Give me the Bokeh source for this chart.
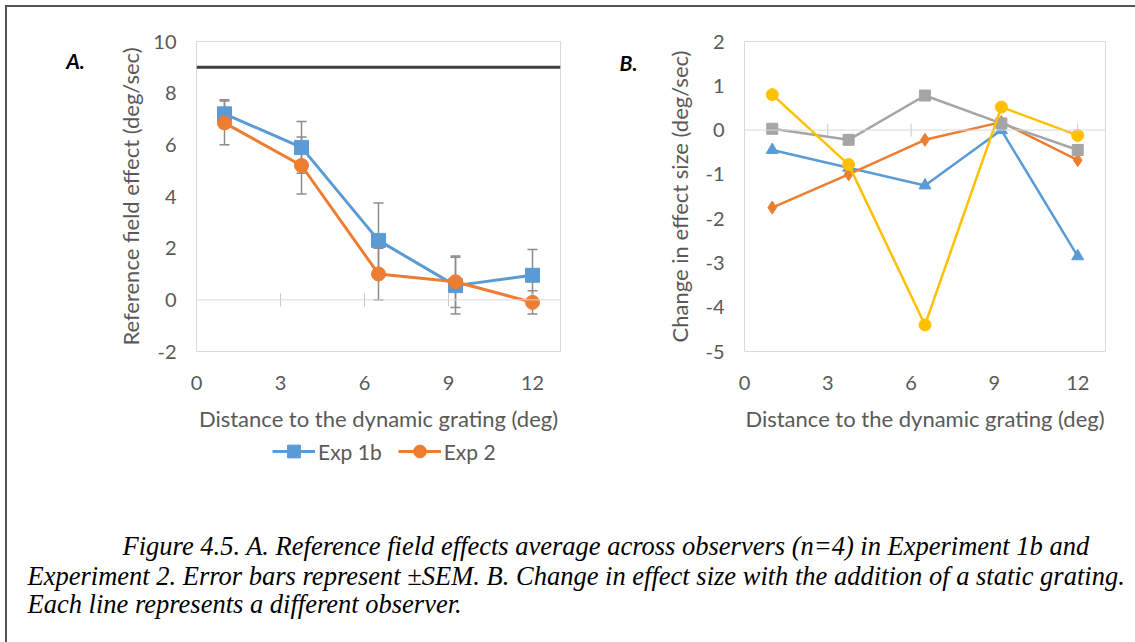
from math import pi
import numpy as np
from bokeh.plotting import figure
from bokeh.models import (Range1d, FixedTicker, Span, Whisker, ColumnDataSource,
                          Legend, LegendItem, Label, TeeHead, Div, Spacer)
from bokeh.layouts import row, column
from bokeh.embed import file_html
from bokeh.resources import INLINE

# ---------------- data ----------------
distance = [1.0, 3.75, 6.5, 9.25, 12.0]
x_ticks = [0, 3, 6, 9, 12]
x_tick_labels = ["0", "3", "6", "9", "12"]

a_y_ticks = [-2, 0, 2, 4, 6, 8, 10]
a_y_tick_labels = ["-2", "0", "2", "4", "6", "8", "10"]
b_y_ticks = [-5, -4, -3, -2, -1, 0, 1, 2]
b_y_tick_labels = ["-5", "-4", "-3", "-2", "-1", "0", "1", "2"]

exp1b = [7.2, 5.9, 2.3, 0.55, 0.95]
exp1b_sem = [0.55, 1.0, 1.45, 1.1, 1.0]
exp2 = [6.85, 5.2, 1.0, 0.7, -0.1]
exp2_sem = [0.85, 1.1, 1.0, 1.0, 0.45]
reference_level = 9.0

observer_1 = [-0.45, -0.85, -1.25, 0.0, -2.85]
observer_2 = [-1.75, -1.0, -0.22, 0.18, -0.68]
observer_3 = [0.03, -0.22, 0.78, 0.15, -0.45]
observer_4 = [0.8, -0.78, -4.4, 0.52, -0.12]

series_names = ["Exp 1b", "Exp 2"]
panel_labels = ["A.", "B."]
x_title = "Distance to the dynamic grating (deg)"
a_y_title = "Reference field effect (deg/sec)"
b_y_title = "Change in effect size (deg/sec)"
caption_lines = [
    "Figure 4.5. A. Reference field effects average across observers (n=4) in Experiment 1b and",
    "Experiment 2. Error bars represent \u00b1SEM. B. Change in effect size with the addition of a static grating.",
    "Each line represents a different observer.",
]

# ---------------- style ----------------
FONT = "Lato"
TXT = "#595959"
BLUE = "#5b9bd5"
ORANGE = "#ed7d31"
GRAY = "#a5a5a5"
YELLOW = "#ffc000"
FRAME = "#555555"
TICK_FS = "20px"
TITLE_FS = "22px"

TOP_Y0 = 7        # page y where the chart row starts
TOP_H = 430       # chart row height
PAGE_H = 642
FRAME_TOP = 41    # page y of plot frames' top
FRAME_BOT = 351   # page y of plot frames' bottom
BORDER_T = FRAME_TOP - TOP_Y0
BORDER_B = TOP_Y0 + TOP_H - FRAME_BOT


def blank(p):
    p.xgrid.visible = False
    p.ygrid.visible = False
    p.outline_line_color = None
    p.border_fill_color = "white"
    p.background_fill_color = "white"


def side_canvas(x0, x1):
    # narrow strip in the chart row; its frame shares the row's vertical frame extent
    p = figure(width=x1 - x0, height=TOP_H, x_range=Range1d(x0, x1),
               y_range=Range1d(FRAME_BOT, FRAME_TOP),
               output_backend="svg", toolbar_location=None, x_axis_type=None, y_axis_type=None,
               min_border_left=0, min_border_right=0,
               min_border_top=BORDER_T, min_border_bottom=BORDER_B)
    blank(p)
    return p


def style(p, yticks, ylabels, ytitle, ytitle_standoff):
    p.xgrid.visible = False
    p.ygrid.visible = False
    p.outline_line_color = "#d9d9d9"
    p.outline_line_width = 1
    p.background_fill_color = "white"
    p.border_fill_color = "white"
    for ax in (p.xaxis[0], p.yaxis[0]):
        ax.axis_line_color = None
        ax.major_tick_line_color = None
        ax.minor_tick_line_color = None
        ax.major_label_text_font = FONT
        ax.major_label_text_font_size = TICK_FS
        ax.major_label_text_color = TXT
        ax.axis_label_text_font = FONT
        ax.axis_label_text_font_size = TITLE_FS
        ax.axis_label_text_color = TXT
        ax.axis_label_text_font_style = "normal"
    p.xaxis.ticker = FixedTicker(ticks=x_ticks)
    p.xaxis.major_label_overrides = dict(zip(x_ticks, x_tick_labels))
    p.yaxis.ticker = FixedTicker(ticks=yticks)
    p.yaxis.major_label_overrides = dict(zip(yticks, ylabels))
    p.xaxis.axis_label = x_title
    p.yaxis.axis_label = ytitle
    p.xaxis.major_label_standoff = 18
    p.yaxis.major_label_standoff = 14
    p.xaxis.axis_label_standoff = 12
    p.yaxis.axis_label_standoff = ytitle_standoff
    # zero line with cross ticks
    p.add_layout(Span(location=0, dimension="width", line_color="#d9d9d9", line_width=1))
    p.scatter(x=x_ticks[1:], y=[0] * (len(x_ticks) - 1), marker="dash", angle=pi / 2,
              size=13, line_color="#c8c8c8", line_width=1)


# ---------------- panel A ----------------
pAL = side_canvas(7, 107)
pAL.add_layout(Label(x=75, y=60, text=panel_labels[0], text_font=FONT, text_font_size="21px",
                     text_font_style="bold italic", text_color="black",
                     text_align="center", text_baseline="middle"))

pA = figure(width=473, height=TOP_H, x_range=Range1d(0, 13), y_range=Range1d(-2, 10),
            output_backend="svg", toolbar_location=None,
            min_border_left=89, min_border_right=20,
            min_border_top=BORDER_T, min_border_bottom=BORDER_B)
style(pA, a_y_ticks, a_y_tick_labels, a_y_title, 6)

pA.add_layout(Span(location=reference_level, dimension="width", line_color="#404040", line_width=3))

for vals, sem in ((exp1b, exp1b_sem), (exp2, exp2_sem)):
    src = ColumnDataSource(dict(x=distance,
                                upper=[v + s for v, s in zip(vals, sem)],
                                lower=[v - s for v, s in zip(vals, sem)]))
    pA.add_layout(Whisker(base="x", upper="upper", lower="lower", source=src,
                          line_color="#8c8c8c", line_width=1.5,
                          upper_head=TeeHead(size=10, line_color="#8c8c8c", line_width=1.5),
                          lower_head=TeeHead(size=10, line_color="#8c8c8c", line_width=1.5)))

pA.line(distance, exp1b, line_color=BLUE, line_width=3)
pA.scatter(distance, exp1b, marker="square", size=14, fill_color=BLUE, line_color=BLUE)
pA.line(distance, exp2, line_color=ORANGE, line_width=3)
pA.scatter(distance, exp2, marker="circle", size=14, fill_color=ORANGE, line_color=ORANGE)

# ---------------- panel B ----------------
pBL = side_canvas(580, 650)
pBL.add_layout(Label(x=628, y=62, text=panel_labels[1], text_font=FONT, text_font_size="21px",
                     text_font_style="bold italic", text_color="black",
                     text_align="center", text_baseline="middle"))

pB = figure(width=485, height=TOP_H, x_range=Range1d(0, 13), y_range=Range1d(-5, 2),
            output_backend="svg", toolbar_location=None,
            min_border_left=94, min_border_right=30,
            min_border_top=BORDER_T, min_border_bottom=BORDER_B)
style(pB, b_y_ticks, b_y_tick_labels, b_y_title, 9)

pB.line(distance, observer_1, line_color=BLUE, line_width=2.5)
pB.scatter(distance, observer_1, marker="triangle", size=12, fill_color=BLUE, line_color=BLUE)
pB.line(distance, observer_2, line_color=ORANGE, line_width=2.5)
pB.scatter(distance, observer_2, marker="diamond", size=13, fill_color=ORANGE, line_color=ORANGE)
pB.line(distance, observer_3, line_color=GRAY, line_width=2.5)
pB.scatter(distance, observer_3, marker="square", size=11, fill_color=GRAY, line_color=GRAY)
pB.line(distance, observer_4, line_color=YELLOW, line_width=2.5)
pB.scatter(distance, observer_4, marker="circle", size=12, fill_color=YELLOW, line_color=YELLOW)

# ---------------- legend + caption ----------------
pC = figure(width=1128, height=PAGE_H - TOP_Y0 - TOP_H, x_range=Range1d(7, 1135),
            y_range=Range1d(PAGE_H, TOP_Y0 + TOP_H),
            output_backend="svg", toolbar_location=None, x_axis_type=None, y_axis_type=None,
            min_border=0)
blank(pC)
legend_items = []
for name, color, marker in zip(series_names, [BLUE, ORANGE], ["square", "circle"]):
    # legend-only renderers (a single NaN point draws nothing in the plot)
    lr = pC.line(x=np.array([np.nan]), y=np.array([np.nan]), line_color=color, line_width=3)
    mr = pC.scatter(x=np.array([np.nan]), y=np.array([np.nan]), marker=marker,
                    fill_color=color, line_color=color)
    legend_items.append(LegendItem(label=name, renderers=[lr, mr]))
legend = Legend(items=legend_items, orientation="horizontal", location=(265, PAGE_H - 467),
                border_line_color=None, background_fill_alpha=0,
                label_text_font=FONT, label_text_font_size="21px", label_text_color=TXT,
                glyph_width=43, glyph_height=32, label_standoff=3, spacing=16,
                padding=0, margin=0)
pC.add_layout(legend)

for txt, x0, y0 in zip(caption_lines, [122, 27, 27], [545, 575, 603]):
    pC.add_layout(Label(x=x0, y=y0, text=txt, text_font="Liberation Serif", text_font_size="26.5px",
                        text_font_style="italic", text_color="black", text_baseline="middle"))

# ---------------- page frame ----------------
line_style = {"background-color": FRAME}
top_line = Div(text="", width=1130, height=2, margin=0, styles=line_style)
left_line = Div(text="", width=2, height=PAGE_H - TOP_Y0, margin=0, styles=line_style)

root = column(Spacer(width=1135, height=5),
              row(Spacer(width=5, height=PAGE_H - 5),
                  column(top_line,
                         row(left_line, column(row(pAL, pA, pBL, pB), pC)))))

open("out.html", "w").write(file_html(root, INLINE))
